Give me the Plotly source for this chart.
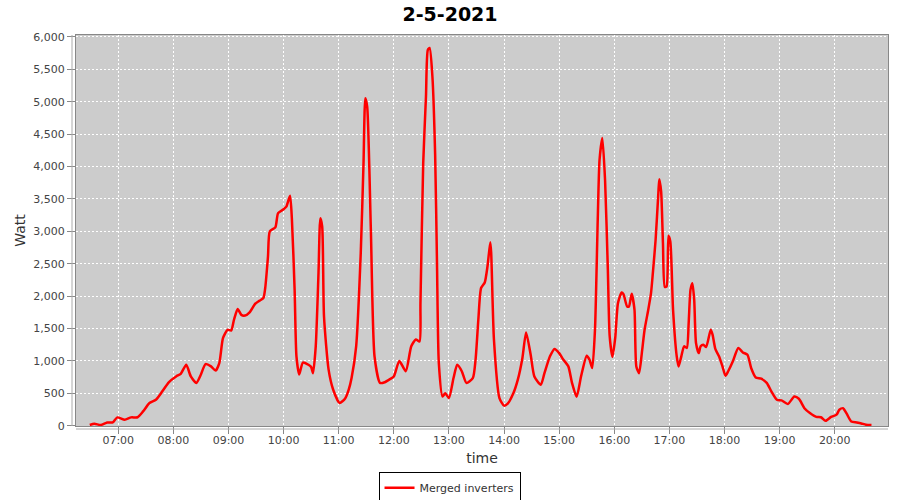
import plotly.graph_objects as go

# readings for 2 May 2021
day = "2021-05-02"
times = [
    "06:29", "06:34", "06:41", "06:48", "06:54", "06:59", "07:07", "07:14", "07:21", "07:27",
    "07:34", "07:41", "07:48", "07:55", "08:03", "08:08", "08:14", "08:19", "08:25", "08:30",
    "08:35", "08:41", "08:46", "08:50", "08:54", "08:59", "09:03", "09:06", "09:10", "09:14",
    "09:18", "09:23", "09:29", "09:34", "09:38", "09:40", "09:43", "09:45", "09:51", "09:54",
    "10:00", "10:03", "10:07", "10:09", "10:12", "10:14", "10:17", "10:21", "10:27", "10:30",
    "10:32", "10:35", "10:38", "10:40", "10:42", "10:44", "10:49", "10:54", "11:01", "11:07",
    "11:11", "11:14", "11:19", "11:24", "11:27", "11:29", "11:31", "11:35", "11:39", "11:45",
    "11:50", "11:56", "12:00", "12:06", "12:13", "12:19", "12:24", "12:28", "12:29", "12:32",
    "12:35", "12:37", "12:39", "12:42", "12:45", "12:47", "12:49", "12:53", "12:56", "13:00",
    "13:05", "13:09", "13:14", "13:19", "13:26", "13:29", "13:32", "13:35", "13:39", "13:42",
    "13:45", "13:46", "13:49", "13:55", "14:00", "14:04", "14:10", "14:15", "14:20", "14:24",
    "14:29", "14:33", "14:40", "14:44", "14:50", "14:55", "15:00", "15:04", "15:10", "15:14",
    "15:19", "15:24", "15:30", "15:33", "15:36", "15:39", "15:42", "15:44", "15:47", "15:50",
    "15:53", "15:55", "15:58", "16:01", "16:04", "16:08", "16:10", "16:14", "16:16", "16:19",
    "16:22", "16:24", "16:27", "16:30", "16:33", "16:37", "16:40", "16:42", "16:45", "16:48",
    "16:49", "16:51", "16:53", "16:55", "16:57", "16:59", "17:01", "17:04", "17:08", "17:10",
    "17:13", "17:16", "17:19", "17:21", "17:23", "17:25", "17:27", "17:29", "17:32", "17:34",
    "17:37", "17:40", "17:45", "17:47", "17:50", "17:54", "17:58", "18:01", "18:04", "18:09",
    "18:15", "18:20", "18:25", "18:29", "18:34", "18:40", "18:46", "18:51", "18:57", "19:02",
    "19:09", "19:16", "19:21", "19:27", "19:33", "19:40", "19:45", "19:50", "19:56", "20:02",
    "20:05", "20:09", "20:13", "20:18", "20:24", "20:29", "20:34", "20:40",
]
watts = [
    10, 30, 10, 50, 50, 128, 92, 128, 130, 220,
    350, 400, 530, 670, 760, 800, 940, 760, 660, 790,
    950, 915, 850, 965, 1350, 1480, 1470, 1635, 1800, 1710,
    1700, 1750, 1880, 1930, 1970, 2125, 2610, 3000, 3060, 3280,
    3340, 3380, 3550, 3200, 2100, 1070, 790, 975, 940, 905,
    810, 1225, 2355, 3200, 3075, 1685, 865, 555, 350, 420,
    560, 735, 1225, 2665, 4050, 5055, 4925, 3025, 1070, 660,
    670, 720, 760, 1000, 840, 1225, 1330, 1300, 1890, 4050,
    5080, 5800, 5830, 5390, 4180, 2510, 965, 450, 500, 425,
    735, 940, 840, 660, 735, 1020, 1635, 2125, 2210, 2460,
    2830, 2665, 1330, 425, 310, 340, 495, 710, 1045, 1440,
    1095, 760, 630, 810, 1070, 1185, 1120, 1030, 915, 660,
    445, 770, 1080, 1020, 890, 1480, 3180, 4105, 4440, 3780,
    2410, 1380, 1060, 1350, 1890, 2055, 2030, 1840, 1840, 2035,
    1790, 915, 810, 1120, 1480, 1790, 2045, 2355, 2870, 3590,
    3805, 3615, 2820, 2140, 2150, 2930, 2845, 1790, 1070, 915,
    1070, 1225, 1200, 1585, 2100, 2200, 1945, 1275, 1120, 1225,
    1250, 1215, 1480, 1405, 1185, 1070, 905, 770, 840, 990,
    1200, 1130, 1095, 890, 745, 725, 660, 530, 400, 390,
    335, 450, 415, 270, 195, 135, 130, 75, 135, 170,
    245, 270, 185, 65, 50, 35, 15, 10,
]

x = [f"{day} {t}" for t in times]

fig = go.Figure()
fig.add_trace(go.Scatter(
    x=x, y=watts, mode="lines", name="Merged inverters",
    line=dict(color="#ff0000", width=2.5, shape="spline", smoothing=0.6),
))

axis_grey = "#888888"
fig.update_layout(
    width=900, height=500,
    margin=dict(l=76, r=12, t=35, b=74, autoexpand=False),
    paper_bgcolor="white",
    plot_bgcolor="#cccccc",
    font=dict(family="DejaVu Sans", size=11, color="#444444"),
    title=dict(text="<b>2-5-2021</b>", x=0.5, xref="container", xanchor="center",
               y=0.972, yref="container", yanchor="middle",
               font=dict(family="DejaVu Sans", size=19, color="black")),
    showlegend=True,
    legend=dict(x=0.46, xanchor="center", y=-0.118, yanchor="top",
                bordercolor="black", borderwidth=1, bgcolor="white",
                font=dict(size=11, color="#333333"), itemwidth=30),
    xaxis=dict(
        type="date", automargin=False,
        range=[f"{day} 06:14", f"{day} 20:58"],
        tick0=f"{day} 07:00", dtick=3600000, tickformat="%H:%M",
        showgrid=True, gridcolor="white", griddash="2px,2px", gridwidth=1,
        showline=True, linecolor=axis_grey, linewidth=1, mirror=True,
        ticks="outside", ticklen=7, tickcolor=axis_grey, ticklabelstandoff=-3,
        zeroline=False,
        title=dict(text="time", font=dict(size=14, color="#333333"), standoff=6),
    ),
    yaxis=dict(
        range=[-5, 6030], automargin=False,
        tickvals=[0, 500, 1000, 1500, 2000, 2500, 3000, 3500, 4000, 4500, 5000, 5500, 6000],
        tickformat=",",
        showgrid=True, gridcolor="white", griddash="2px,2px", gridwidth=1,
        showline=True, linecolor=axis_grey, linewidth=1, mirror=True,
        ticks="outside", ticklen=8, tickcolor=axis_grey,
        zeroline=False,
        title=dict(text="Watt", font=dict(size=14, color="#333333"), standoff=4),
    ),
)

# offset axis lines, drawn a few pixels away from the plot border
fig.add_shape(type="line", xref="paper", yref="paper", x0=0, x1=1,
              y0=-3, y1=-3, ysizemode="pixel", yanchor=0,
              line=dict(color="#aaaaaa", width=1))
fig.add_shape(type="line", xref="paper", yref="paper", y0=0, y1=1,
              x0=-4, x1=-4, xsizemode="pixel", xanchor=0,
              line=dict(color="#aaaaaa", width=1))

# drop the default page margin so the 900x500 figure fills the window
fig.write_html("out.html", config={"displayModeBar": False},
               post_script="document.body.style.margin='0';")
